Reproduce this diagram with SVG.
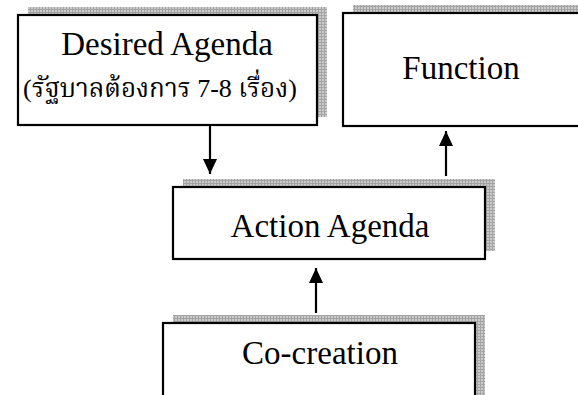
<svg xmlns="http://www.w3.org/2000/svg" width="578" height="395" viewBox="0 0 578 395">
<style>
.box{fill:#fff;stroke:#000;stroke-width:2.2}
.shadow{fill:url(#grid)}
.t{font-family:"Liberation Serif","Times New Roman",serif;font-size:33px;fill:#000;text-anchor:middle}
.th{font-family:"Liberation Serif","Noto Serif Thai","Noto Sans Thai","Tlwg Typo",serif;font-size:26px;fill:#000;text-anchor:middle}
.c{stroke:#000;stroke-width:2.2;fill:none}
</style>
<defs>
<pattern id="grid" width="3" height="3" patternUnits="userSpaceOnUse">
<rect width="3" height="3" fill="#cacaca"/>
<path d="M0 0.5H3M0.5 0V3" stroke="#a4a4a4" stroke-width="1"/>
</pattern>
<marker id="ah" markerWidth="16" markerHeight="14" refX="15" refY="7" orient="auto" markerUnits="userSpaceOnUse" viewBox="0 0 16 14">
<path d="M0 0L15 7L0 14Z" fill="#000"/>
</marker>
</defs>
<g id="desired">
<rect class="shadow" x="28" y="7" width="299" height="110"/>
<rect class="box" x="18" y="15" width="299" height="110"/>
<text class="t" x="167" y="55">Desired Agenda</text>
<text class="th" x="160" y="97">(รัฐบาลต้องการ 7-8 เรื่อง)</text>
</g>
<g id="function">
<rect class="shadow" x="353" y="5" width="240" height="113"/>
<rect class="box" x="343" y="13" width="250" height="113"/>
<text class="t" x="461" y="79">Function</text>
</g>
<g id="action">
<rect class="shadow" x="183" y="179" width="312" height="72"/>
<rect class="box" x="173" y="187" width="312" height="72"/>
<text class="t" x="330" y="237">Action Agenda</text>
</g>
<g id="cocreation">
<rect class="shadow" x="173" y="315" width="312" height="90"/>
<rect class="box" x="163" y="323" width="312" height="90"/>
<text class="t" x="320" y="364">Co-creation</text>
</g>
<g id="connectors">
<path class="c" d="M210 125V174" marker-end="url(#ah)"/>
<path class="c" d="M446 176V131" marker-end="url(#ah)"/>
<path class="c" d="M316 313V268" marker-end="url(#ah)"/>
</g>
</svg>
